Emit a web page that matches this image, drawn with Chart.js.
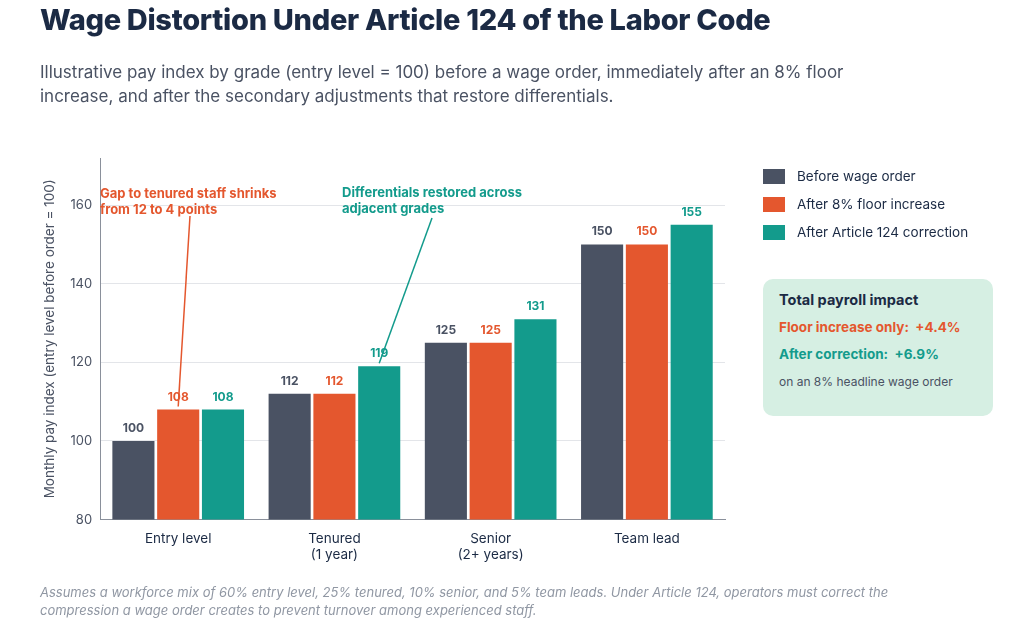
<!DOCTYPE html>
<html><head><meta charset="utf-8">
<script src="https://cdn.jsdelivr.net/npm/chart.js@4/dist/chart.umd.min.js"></script>
<style>
body{margin:0;width:1024px;height:632px;background:#fff;font-family:Inter,"Noto Sans",sans-serif;position:relative;overflow:hidden}
#c{position:absolute;left:0;top:0}
h1{position:absolute;left:40px;top:2px;margin:0;font-size:29px;font-weight:800;color:#1b2a44;letter-spacing:-0.3px}
.sub{position:absolute;left:40px;top:60px;width:880px;font-size:17px;line-height:24px;color:#4a5263}
.leg{position:absolute;left:763px;font-size:13.5px;color:#1b2a44}
.leg i{display:inline-block;width:22px;height:15px;vertical-align:-3px;margin-right:12px}
.box{position:absolute;left:763px;top:279px;width:230px;height:137px;background:#d6efe3;border-radius:10px;box-sizing:border-box;padding:12px 16px;font-size:13.5px}
.foot{position:absolute;left:40px;top:583px;width:900px;font-size:13px;line-height:18px;color:#9097a3;font-style:italic}
</style></head><body>
<canvas id="c" width="1024" height="632"></canvas>
<h1>Wage Distortion Under Article 124 of the Labor Code</h1>
<div class="sub">Illustrative pay index by grade (entry level = 100) before a wage order, immediately after an 8% floor increase, and after the secondary adjustments that restore differentials.</div>
<div class="leg" style="top:168px"><i style="background:#4a5263"></i>Before wage order</div>
<div class="leg" style="top:196px"><i style="background:#e4572e"></i>After 8% floor increase</div>
<div class="leg" style="top:224px"><i style="background:#139b8c"></i>After Article 124 correction</div>
<div class="box">
<div style="font-weight:700;color:#1b2a44;font-size:14.5px">Total payroll impact</div>
<div style="font-weight:700;color:#e4572e;margin-top:11px">Floor increase only:&nbsp; +4.4%</div>
<div style="font-weight:700;color:#139b8c;margin-top:11px">After correction:&nbsp; +6.9%</div>
<div style="color:#4a5263;font-size:12px;margin-top:12px">on an 8% headline wage order</div>
</div>
<div class="foot">Assumes a workforce mix of 60% entry level, 25% tenured, 10% senior, and 5% team leads. Under Article 124, operators must correct the compression a wage order creates to prevent turnover among experienced staff.</div>
<script>
const grades = [['Entry level'], ['Tenured', '(1 year)'], ['Senior', '(2+ years)'], ['Team lead']];
const beforeOrder = [100, 112, 125, 150];
const afterFloor = [108, 112, 125, 150];
const afterCorrection = [108, 119, 131, 155];
const seriesColors = ['#4a5263', '#e4572e', '#139b8c'];
const yTicks = [80, 100, 120, 140, 160];

const barLabels = {
	id: 'barLabels',
	afterDatasetsDraw(chart) {
		const ctx = chart.ctx;
		ctx.save();
		ctx.font = 'bold 12px Inter, sans-serif';
		ctx.textAlign = 'center';
		chart.data.datasets.forEach((ds, i) => {
			chart.getDatasetMeta(i).data.forEach((bar, j) => {
				ctx.fillStyle = seriesColors[i];
				ctx.fillText(ds.data[j], bar.x, bar.y - 9);
			});
		});
		// callouts
		const m1 = chart.getDatasetMeta(1).data[0];
		const m2 = chart.getDatasetMeta(2).data[1];
		ctx.lineWidth = 1.5;
		ctx.strokeStyle = '#e4572e';
		ctx.beginPath(); ctx.moveTo(190, 216); ctx.lineTo(m1.x, m1.y - 3); ctx.stroke();
		ctx.strokeStyle = '#139b8c';
		ctx.beginPath(); ctx.moveTo(432, 218); ctx.lineTo(m2.x, m2.y - 3); ctx.stroke();
		ctx.textAlign = 'left';
		ctx.font = 'bold 13px Inter, sans-serif';
		ctx.fillStyle = '#e4572e';
		ctx.fillText('Gap to tenured staff shrinks', 100, 198);
		ctx.fillText('from 12 to 4 points', 100, 214);
		ctx.fillStyle = '#139b8c';
		ctx.fillText('Differentials restored across', 342, 197);
		ctx.fillText('adjacent grades', 342, 213);
		ctx.restore();
	}
};

new Chart(document.getElementById('c'), {
	type: 'bar',
	data: {
		labels: grades,
		datasets: [
			{label: 'Before wage order', data: beforeOrder, backgroundColor: seriesColors[0]},
			{label: 'After 8% floor increase', data: afterFloor, backgroundColor: seriesColors[1]},
			{label: 'After Article 124 correction', data: afterCorrection, backgroundColor: seriesColors[2]}
		]
	},
	options: {
		responsive: false,
		animation: false,
		layout: {padding: {left: 38, top: 158, right: 299, bottom: 66}},
		datasets: {bar: {categoryPercentage: 0.86, barPercentage: 0.94}},
		plugins: {legend: {display: false}, tooltip: {enabled: false}},
		scales: {
			x: {
				grid: {display: false},
				border: {color: '#8a909b'},
				ticks: {color: '#1b2a44', font: {size: 13.5, family: 'Inter'}}
			},
			y: {
				min: 80, max: 172,
				afterBuildTicks: s => { s.ticks = yTicks.map(v => ({value: v})); },
				grid: {color: '#e3e5e9', drawTicks: false},
				border: {color: '#8a909b'},
				ticks: {color: '#4a5263', padding: 8, font: {size: 13, family: 'Inter'}},
				title: {display: true, text: 'Monthly pay index (entry level before order = 100)', color: '#4a5263', font: {size: 13.5, family: 'Inter'}}
			}
		}
	},
	plugins: [barLabels]
});
</script>
</body></html>
